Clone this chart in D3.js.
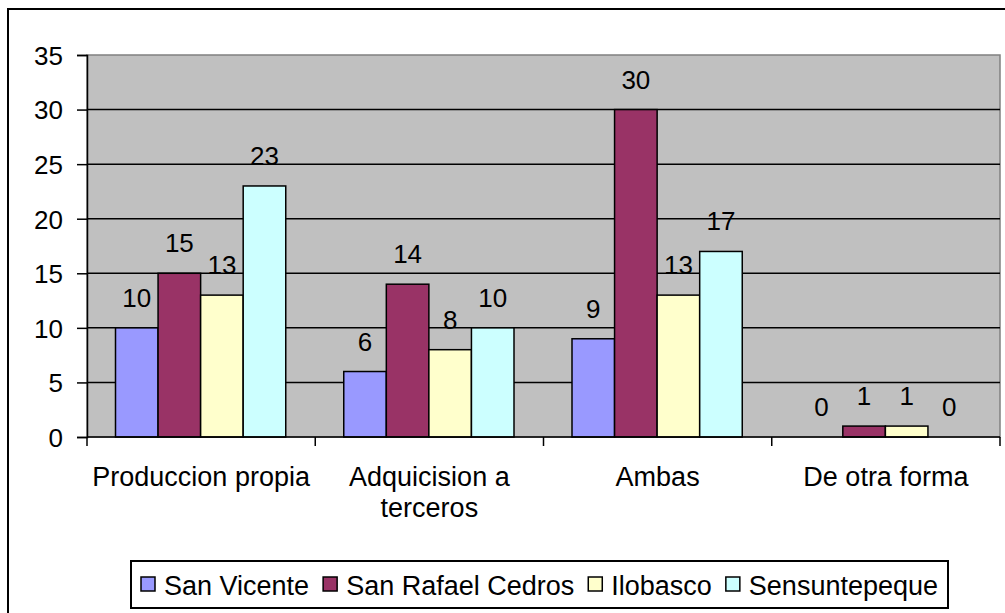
<!DOCTYPE html>
<html>
<head>
<meta charset="utf-8">
<script src="https://cdn.jsdelivr.net/npm/d3@7"></script>
<style>
  body { margin: 0; background: #fff; }
  text { font-family: "Liberation Sans", Arial, sans-serif; fill: #000; }
</style>
</head>
<body>
<svg id="chart" width="1005" height="613"></svg>
<script>
// data
const categories = ["Produccion propia", "Adquicision a terceros", "Ambas", "De otra forma"];
const categoryLines = [["Produccion propia"], ["Adquicision a", "terceros"], ["Ambas"], ["De otra forma"]];
const seriesNames = ["San Vicente", "San Rafael Cedros", "Ilobasco", "Sensuntepeque"];
const sanVicente = [10, 6, 9, 0];
const sanRafaelCedros = [15, 14, 30, 1];
const ilobasco = [13, 8, 13, 1];
const sensuntepeque = [23, 10, 17, 0];
const yTicks = [0, 5, 10, 15, 20, 25, 30, 35];
const colors = ["#9999FF", "#993366", "#FFFFCC", "#CCFFFF"];

const series = [sanVicente, sanRafaelCedros, ilobasco, sensuntepeque];

const svg = d3.select("#chart");
const plotLeft = 87, plotRight = 1000, plotTop = 55, plotBottom = 437;

// outer frame
svg.append("rect")
  .attr("x", 8).attr("y", 9)
  .attr("width", 1010).attr("height", 620)
  .attr("fill", "#fff").attr("stroke", "#000").attr("stroke-width", 2);

const x0 = d3.scaleBand().domain(categories).range([plotLeft, plotRight]).padding(0);
const x1 = d3.scaleBand().domain(seriesNames)
  .range([28.5, x0.bandwidth() - 29.5]).padding(0);
const y = d3.scaleLinear().domain([0, 35]).range([plotBottom, plotTop]);

// plot area
svg.append("rect")
  .attr("x", plotLeft).attr("y", plotTop)
  .attr("width", plotRight - plotLeft).attr("height", plotBottom - plotTop)
  .attr("fill", "#C0C0C0").attr("stroke", "#808080").attr("stroke-width", 1.5);

// gridlines
svg.append("g").selectAll("line").data(yTicks.filter(d => d > 0 && d < 35)).enter()
  .append("line")
  .attr("x1", plotLeft).attr("x2", plotRight)
  .attr("y1", d => y(d)).attr("y2", d => y(d))
  .attr("stroke", "#000").attr("stroke-width", 1.5);

// bars
categories.forEach(function (c, i) {
  seriesNames.forEach(function (s, j) {
    const v = series[j][i];
    const bx = x0(c) + x1(s);
    if (v > 0) {
      svg.append("rect")
        .attr("x", bx).attr("y", y(v))
        .attr("width", x1.bandwidth()).attr("height", y(0) - y(v))
        .attr("fill", colors[j]).attr("stroke", "#000").attr("stroke-width", 1.5);
    }
    svg.append("text")
      .attr("x", bx + x1.bandwidth() / 2)
      .attr("y", y(v) - 21)
      .attr("text-anchor", "middle")
      .style("font-size", "26px")
      .text(v);
  });
});

// y axis
const yAxis = svg.append("g")
  .attr("transform", `translate(${plotLeft},0)`)
  .call(d3.axisLeft(y).tickValues(yTicks).tickSize(10).tickPadding(14));
yAxis.select(".domain").attr("stroke", "#000").attr("stroke-width", 1.5);
yAxis.selectAll(".tick line").attr("stroke", "#000").attr("stroke-width", 1.5);
yAxis.selectAll("text").style("font-size", "26px").attr("font-family", null)
  .attr("dy", "0.36em");

// x axis line and category ticks
svg.append("line")
  .attr("x1", plotLeft).attr("x2", plotRight).attr("y1", plotBottom).attr("y2", plotBottom)
  .attr("stroke", "#000").attr("stroke-width", 1.5);
const bounds = categories.map(c => x0(c)).concat([plotRight]);
svg.append("g").selectAll("line").data(bounds).enter()
  .append("line")
  .attr("x1", d => d).attr("x2", d => d)
  .attr("y1", plotBottom).attr("y2", plotBottom + 9)
  .attr("stroke", "#000").attr("stroke-width", 1.5);

// category labels
categories.forEach(function (c, i) {
  const t = svg.append("text")
    .attr("x", x0(c) + x0.bandwidth() / 2)
    .attr("y", 486)
    .attr("text-anchor", "middle")
    .style("font-size", "27px");
  categoryLines[i].forEach(function (line, k) {
    t.append("tspan")
      .attr("x", x0(c) + x0.bandwidth() / 2)
      .attr("dy", k === 0 ? 0 : 31)
      .text(line);
  });
});

// legend
const legend = svg.append("g");
legend.append("rect")
  .attr("x", 131).attr("y", 561).attr("width", 817).attr("height", 47)
  .attr("fill", "#fff").attr("stroke", "#000").attr("stroke-width", 2);
let lx = 141;
seriesNames.forEach(function (s, j) {
  legend.append("rect")
    .attr("x", lx).attr("y", 577).attr("width", 14).attr("height", 14)
    .attr("fill", colors[j]).attr("stroke", "#000").attr("stroke-width", 1.5);
  const t = legend.append("text")
    .attr("x", lx + 23).attr("y", 595)
    .style("font-size", "27px")
    .text(s);
  lx += 23 + t.node().getComputedTextLength() + 14;
});
</script>
</body>
</html>
